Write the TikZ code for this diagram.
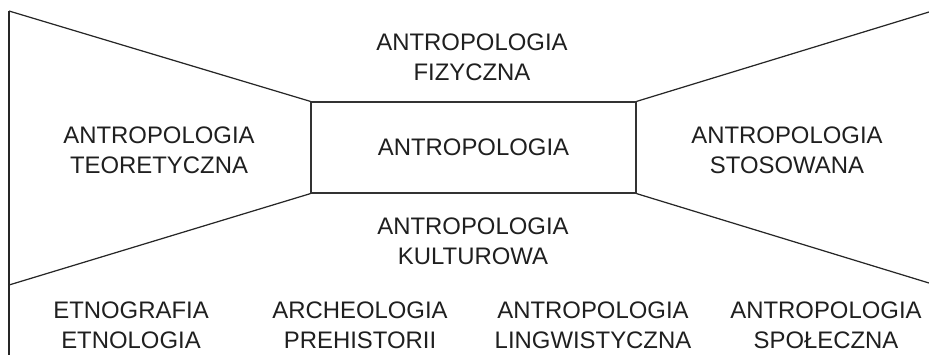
\documentclass[tikz,border=0pt]{standalone}
\usepackage{fontspec}
\setmainfont{Liberation Sans}
\usetikzlibrary{positioning}

\tikzset{
  txt/.style={align=center,inner sep=0pt,text=black!88,font=\fontsize{13.6}{16.9}\selectfont},
  core/.style={draw=black!80,line width=0.7pt,minimum width=65mm,minimum height=18.2mm,inner sep=0pt},
  edge/.style={draw=black!85,line width=0.7pt}
}

\begin{document}
\begin{tikzpicture}[x=0.2mm,y=-0.2mm]
\useasboundingbox (0,0) rectangle (929,355);
% rama: lewa krawedz i ukosne linie
\coordinate (tl) at (9,11);
\coordinate (bl) at (9,285);
\coordinate (bot) at (9,355);
\coordinate (tr) at (929,12);
\coordinate (br) at (929,283);
% srodek
\node[core,txt] (antr) at (473.5,147.5) {ANTROPOLOGIA};
\draw[edge] (tl) -- (antr.north west);
\draw[edge] (bl) -- (antr.south west);
\draw[edge] (tr) -- (antr.north east);
\draw[edge] (br) -- (antr.south east);
\draw[edge] (tl) -- (bot);
% dzialy
\node[txt] (fiz) at (472,57) {ANTROPOLOGIA\\FIZYCZNA};
\node[txt] (kult) at (473,241) {ANTROPOLOGIA\\KULTUROWA};
\node[txt] (teo) at (159,150) {ANTROPOLOGIA\\TEORETYCZNA};
\node[txt] (sto) at (787,150) {ANTROPOLOGIA\\STOSOWANA};
% dolny rzad
\node[txt] (etno) at (131,325.5) {ETNOGRAFIA\\ETNOLOGIA};
\node[txt] (arch) at (360,325.5) {ARCHEOLOGIA\\PREHISTORII};
\node[txt] (ling) at (593,325.5) {ANTROPOLOGIA\\LINGWISTYCZNA};
\node[txt] (spol) at (826,325.5) {ANTROPOLOGIA\\SPOŁECZNA};
\end{tikzpicture}
\end{document}
